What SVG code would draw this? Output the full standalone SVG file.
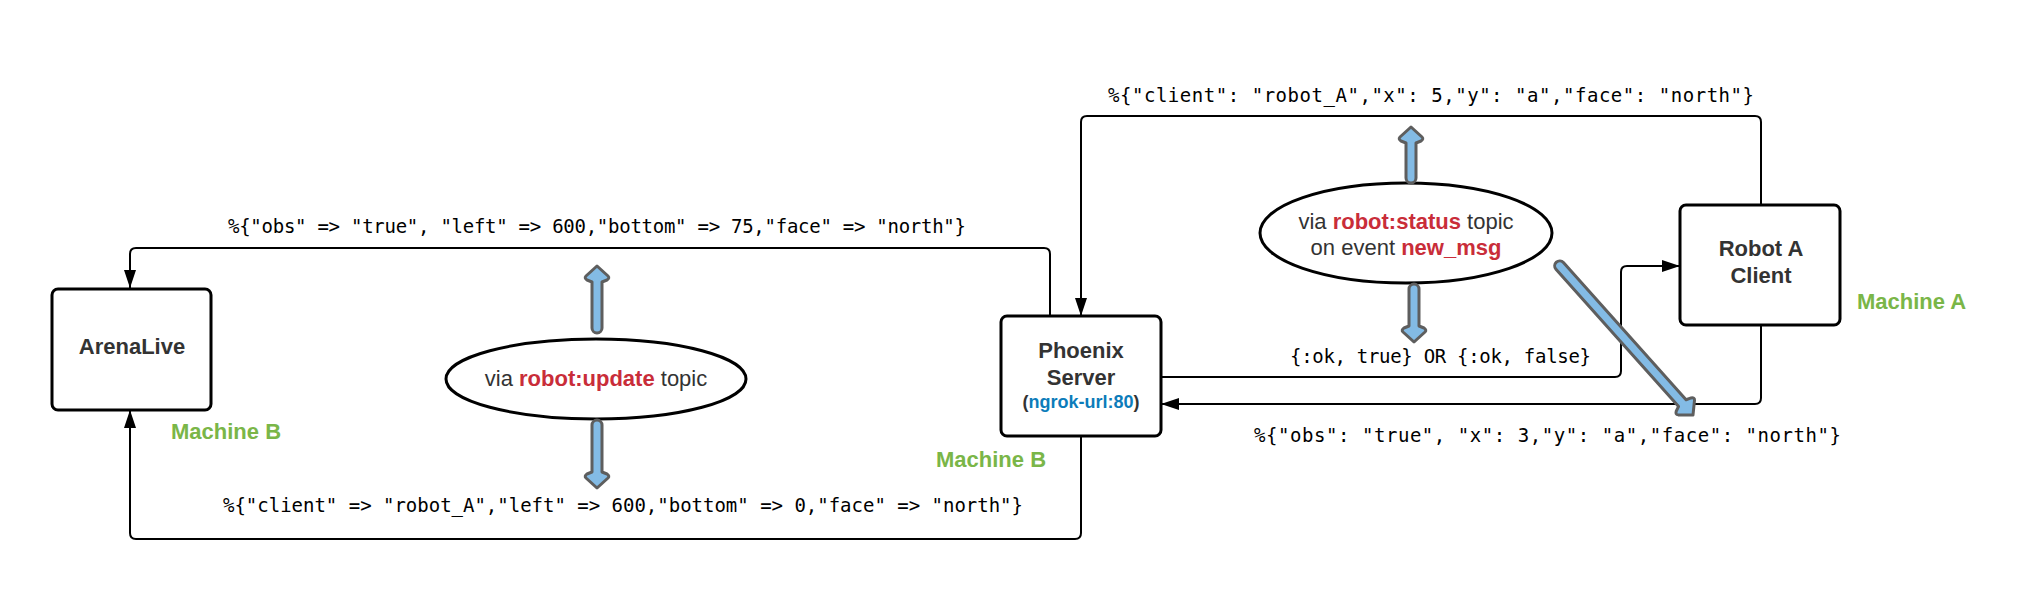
<svg xmlns="http://www.w3.org/2000/svg" width="2022" height="602" viewBox="0 0 2022 602">
<style>
.box{fill:#fff;stroke:#000;stroke-width:3}
.ell{fill:#fff;stroke:#000;stroke-width:3}
.lbl{font-family:"Liberation Sans",Arial,sans-serif;font-weight:bold;font-size:22px;fill:#333;text-anchor:middle}
.mach{font-family:"Liberation Sans",Arial,sans-serif;font-weight:bold;font-size:22px;fill:#7AB648}
.topic{font-family:"Liberation Sans",Arial,sans-serif;font-size:22px;fill:#333;text-anchor:middle}
.red{fill:#C92D39;font-weight:bold}
.mono{font-family:"DejaVu Sans Mono","Liberation Mono",monospace;font-size:19px;fill:#000}
.conn{fill:none;stroke:#000;stroke-width:2}
.barrow{fill:#83BBE5;stroke:#5E5E5E;stroke-width:3;stroke-linejoin:round}
</style>
<defs>
<marker id="ah" markerUnits="userSpaceOnUse" markerWidth="18" markerHeight="12" refX="18" refY="6" orient="auto">
<path d="M0,0 L18,6 L0,12 Z" fill="#000"/>
</marker>
</defs>
<g id="connectors">
<path class="conn" d="M1050,316 V254 Q1050,248 1044,248 H136 Q130,248 130,254 V288" marker-end="url(#ah)"/>
<path class="conn" d="M1081,436 V533 Q1081,539 1075,539 H136 Q130,539 130,533 V410" marker-end="url(#ah)"/>
<path class="conn" d="M1761,205 V122 Q1761,116 1755,116 H1087 Q1081,116 1081,122 V316" marker-end="url(#ah)"/>
<path class="conn" d="M1161,377 H1615 Q1621,377 1621,371 V272 Q1621,266 1627,266 H1680" marker-end="url(#ah)"/>
<path class="conn" d="M1761,325 V398 Q1761,404 1755,404 H1161" marker-end="url(#ah)"/>
<text class="mono" x="228" y="233" textLength="738" lengthAdjust="spacing">%{"obs" =&gt; "true", "left" =&gt; 600,"bottom" =&gt; 75,"face" =&gt; "north"}</text>
<text class="mono" x="223" y="512" textLength="800" lengthAdjust="spacing">%{"client" =&gt; "robot_A","left" =&gt; 600,"bottom" =&gt; 0,"face" =&gt; "north"}</text>
<text class="mono" x="1108" y="102" textLength="646" lengthAdjust="spacing">%{"client": "robot_A","x": 5,"y": "a","face": "north"}</text>
<text class="mono" x="1290" y="363" textLength="301" lengthAdjust="spacing">{:ok, true} OR {:ok, false}</text>
<text class="mono" x="1254" y="442" textLength="587" lengthAdjust="spacing">%{"obs": "true", "x": 3,"y": "a","face": "north"}</text>
</g>
<g id="arenalive">
<rect class="box" x="52" y="289" width="159" height="121" rx="6"/>
<text class="lbl" x="132" y="354">ArenaLive</text>
<text class="mach" x="171" y="439">Machine B</text>
</g>
<g id="phoenix">
<rect class="box" x="1001" y="316" width="160" height="120" rx="6"/>
<text class="lbl" x="1081" y="358">Phoenix</text>
<text class="lbl" x="1081" y="385">Server</text>
<text class="lbl" x="1081" y="408" style="font-size:18px">(<tspan fill="#0C7CBA">ngrok-url:80</tspan>)</text>
<text class="mach" x="936" y="467">Machine B</text>
</g>
<g id="robot">
<rect class="box" x="1680" y="205" width="160" height="120" rx="6"/>
<text class="lbl" x="1761" y="256">Robot A</text>
<text class="lbl" x="1761" y="283">Client</text>
<text class="mach" x="1857" y="309">Machine A</text>
</g>
<g id="update-topic">
<ellipse class="ell" cx="596" cy="379" rx="150" ry="40"/>
<text class="topic" x="596" y="386">via <tspan class="red">robot:update</tspan> topic</text>
<path class="barrow" transform="translate(597,266)" d="M0,0 L11,10 Q13,12 10,14 L5,16 V62 A5,5 0 0 1 -5,62 V16 L-10,14 Q-13,12 -11,10 Z"/>
<path class="barrow" transform="translate(597,488) rotate(180)" d="M0,0 L11,10 Q13,12 10,14 L5,16 V63 A5,5 0 0 1 -5,63 V16 L-10,14 Q-13,12 -11,10 Z"/>
</g>
<g id="status-topic">
<ellipse class="ell" cx="1406" cy="233" rx="146" ry="50"/>
<text class="topic" x="1406" y="229">via <tspan class="red">robot:status</tspan> topic</text>
<text class="topic" x="1406" y="255">on event <tspan class="red">new_msg</tspan></text>
<path class="barrow" transform="translate(1411,127)" d="M0,0 L11,10 Q13,12 10,14 L5,16 V51 A5,5 0 0 1 -5,51 V16 L-10,14 Q-13,12 -11,10 Z"/>
<path class="barrow" transform="translate(1414,342) rotate(180)" d="M0,0 L11,10 Q13,12 10,14 L5,16 V53 A5,5 0 0 1 -5,53 V16 L-10,14 Q-13,12 -11,10 Z"/>
<path class="barrow" transform="translate(1693,415) rotate(138.2)" d="M0,0 L11,10 Q13,12 10,14 L5,16 V200 A5,5 0 0 1 -5,200 V16 L-10,14 Q-13,12 -11,10 Z"/>
</g>
</svg>
